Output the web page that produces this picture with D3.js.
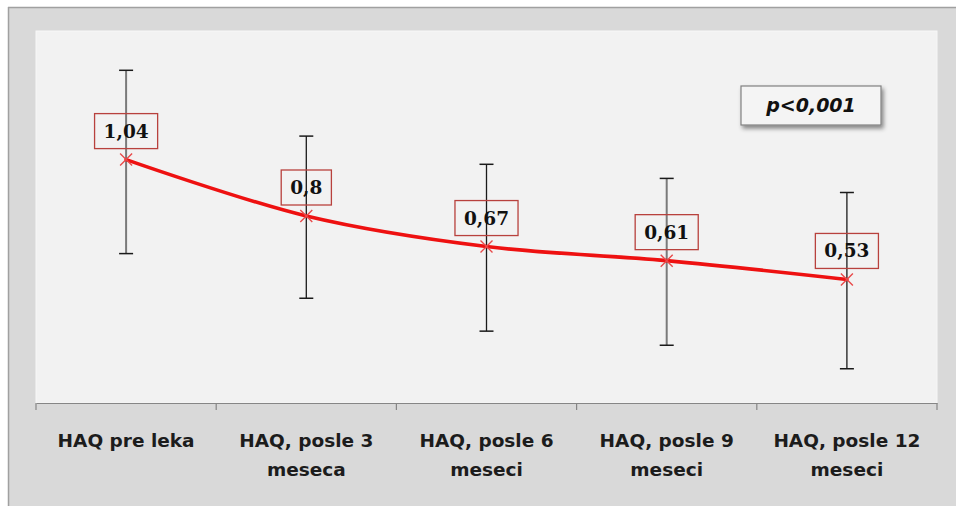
<!DOCTYPE html>
<html><head><meta charset="utf-8">
<script src="https://cdn.jsdelivr.net/npm/d3@7"></script>
<style>html,body{margin:0;padding:0;background:#fff;}svg{display:block;}</style>
</head><body>
<script>
const categories = ["HAQ pre leka", "HAQ, posle 3\nmeseca", "HAQ, posle 6\nmeseci", "HAQ, posle 9\nmeseci", "HAQ, posle 12\nmeseci"];
const means = [1.04, 0.80, 0.67, 0.61, 0.53];
const labels = ["1,04", "0,8", "0,67", "0,61", "0,53"];
const errUpper = [1.42, 1.14, 1.02, 0.96, 0.90];
const errLower = [0.64, 0.45, 0.31, 0.25, 0.15];
const pText = "p<0,001";

const W = 956, H = 506;
const svg = d3.select("body").append("svg").attr("width", W).attr("height", H);

const defs = svg.append("defs");
const f = defs.append("filter").attr("id","sh").attr("x","-20%").attr("y","-30%").attr("width","140%").attr("height","170%");
f.append("feDropShadow").attr("dx",2).attr("dy",3).attr("stdDeviation",2).attr("flood-color","#000").attr("flood-opacity",0.45);

// outer chart area
svg.append("rect").attr("x",8).attr("y",7).attr("width",W).attr("height",H).attr("fill","#d9d9d9");
svg.append("line").attr("x1",8).attr("x2",W).attr("y1",7.5).attr("y2",7.5).attr("stroke","#a0a0a0").attr("stroke-width",1.5);
svg.append("line").attr("x1",8.5).attr("x2",8.5).attr("y1",7).attr("y2",H).attr("stroke","#a0a0a0").attr("stroke-width",1.5);

const plot = {left:36, right:937, top:31, bottom:403};
svg.append("rect").attr("x",plot.left).attr("y",plot.top)
  .attr("width",plot.right-plot.left).attr("height",plot.bottom-plot.top)
  .attr("fill","#f2f2f2").attr("stroke","#f7f7f7").attr("stroke-width",1);

const x = d3.scaleBand().domain(d3.range(categories.length)).range([plot.left, plot.right]).padding(0);
const y = d3.scaleLinear().domain([0, 1.6]).range([404, 28]);
const cx = i => x(i) + x.bandwidth()/2;

// axis
const axis = d3.axisBottom(x).tickSize(0).tickFormat(() => "");
const ag = svg.append("g").attr("transform",`translate(0,${plot.bottom})`).call(axis);
ag.select(".domain").attr("stroke","#868686").attr("stroke-width",1.2);
const bounds = d3.range(categories.length+1).map(i => i < categories.length ? x(i) : plot.right);
svg.append("g").selectAll("line").data(bounds).join("line")
  .attr("x1",d=>d).attr("x2",d=>d).attr("y1",plot.bottom).attr("y2",plot.bottom+7)
  .attr("stroke","#868686").attr("stroke-width",1.2);

// category labels
const cl = svg.append("g").selectAll("text").data(categories).join("text")
  .attr("x",(d,i)=>cx(i)).attr("y",447).attr("text-anchor","middle")
  .attr("font-family","'DejaVu Sans', sans-serif").attr("font-weight","bold")
  .attr("font-size",18.5).attr("fill","#1c1c1c");
cl.each(function(d){
  const t = d3.select(this);
  d.split("\n").forEach((ln,k)=>{
    t.append("tspan").attr("x",t.attr("x")).attr("dy",k===0?0:29).text(ln);
  });
});

// error bars
const eb = svg.append("g");
const stemColors = ["#7a7a7a","#1a1a1a","#1a1a1a","#7a7a7a","#1a1a1a"];
means.forEach((m,i)=>{
  eb.append("line").attr("x1",cx(i)).attr("x2",cx(i)).attr("y1",y(errUpper[i])).attr("y2",y(errLower[i]))
    .attr("stroke",stemColors[i]).attr("stroke-width",i===0||i===3?2:1.3);
  [errUpper[i], errLower[i]].forEach(v=>{
    eb.append("line").attr("x1",cx(i)-7).attr("x2",cx(i)+7).attr("y1",y(v)).attr("y2",y(v))
      .attr("stroke","#1a1a1a").attr("stroke-width",1.5);
  });
});

// line
const line = d3.line().x((d,i)=>cx(i)).y(d=>y(d)).curve(d3.curveCatmullRom.alpha(0.5));
svg.append("path").datum(means).attr("d",line).attr("fill","none")
  .attr("stroke","#ee1111").attr("stroke-width",3.6).attr("stroke-linecap","round");

// markers
const mk = svg.append("g");
means.forEach((m,i)=>{
  const px = cx(i), py = y(m), s = 6;
  mk.append("path").attr("d",`M${px-s},${py-s}L${px+s},${py+s}M${px-s},${py+s}L${px+s},${py-s}`)
    .attr("stroke","#e84a4a").attr("stroke-width",1.4).attr("fill","none");
});

// data labels
const lg = svg.append("g");
means.forEach((m,i)=>{
  const px = cx(i), py = y(m);
  const g = lg.append("g");
  const t = g.append("text").attr("x",px).attr("y",py-22).attr("text-anchor","middle")
    .attr("font-family","'DejaVu Serif', serif").attr("font-weight","bold").attr("font-size",18.5)
    .attr("fill","#111").text(labels[i]);
  const w = t.node().getComputedTextLength();
  g.insert("rect","text").attr("x",px-w/2-9).attr("y",py-11-35).attr("width",w+18).attr("height",35)
    .attr("fill","none").attr("stroke","#b8413d").attr("stroke-width",1.3);
});

// p-value box
const pg = svg.append("g");
pg.append("rect").attr("x",741).attr("y",86).attr("width",140).attr("height",39)
  .attr("fill","#f4f4f4").attr("stroke","#808080").attr("stroke-width",1.2).attr("filter","url(#sh)");
pg.append("text").attr("x",811).attr("y",112).attr("text-anchor","middle")
  .attr("font-family","'DejaVu Sans', sans-serif").attr("font-weight","bold").attr("font-style","italic")
  .attr("font-size",19).attr("fill","#111").text(pText);
</script>
</body></html>
